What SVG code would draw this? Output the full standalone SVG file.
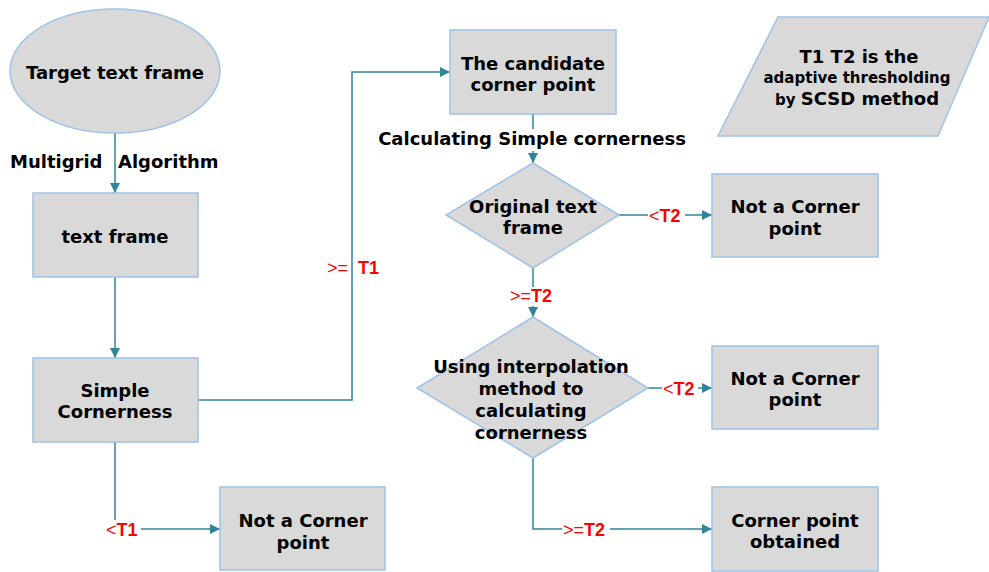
<svg xmlns="http://www.w3.org/2000/svg" width="989" height="572" viewBox="0 0 989 572">
<style>
.box{fill:#d9d9d9;stroke:#9dc3e6;stroke-width:1.5}
.t{font-family:"DejaVu Sans",Verdana,sans-serif;font-weight:bold;font-size:18px;fill:#000;text-anchor:middle}
.s{font-size:15px}
.c{fill:none;stroke:#31849b;stroke-width:1.5}
.r{font-family:"Liberation Sans",Arial,sans-serif;font-weight:bold;font-size:18px;fill:#ff0000}
.rl{font-family:"Liberation Sans",Arial,sans-serif;font-weight:normal;font-size:18px;fill:#ff0000}
.bg{fill:#fff}
</style>
<defs>
<marker id="arr" viewBox="0 0 10 10" refX="10" refY="5" markerWidth="10" markerHeight="10" markerUnits="userSpaceOnUse" orient="auto">
<path d="M0,0 L10,5 L0,10 z" fill="#31849b"/>
</marker>
</defs>
<rect width="989" height="572" fill="#fff"/>

<g id="connectors">
<path class="c" d="M115,133 V193" marker-end="url(#arr)"/>
<path class="c" d="M115,277 V358" marker-end="url(#arr)"/>
<path class="c" d="M198,400 H352 V72 H450" marker-end="url(#arr)"/>
<path class="c" d="M533,114 V163" marker-end="url(#arr)"/>
<path class="c" d="M619,215 H712" marker-end="url(#arr)"/>
<path class="c" d="M533,268 V317" marker-end="url(#arr)"/>
<path class="c" d="M648,388 H712" marker-end="url(#arr)"/>
<path class="c" d="M533,458 V529 H712" marker-end="url(#arr)"/>
<path class="c" d="M115,442 V529 H220" marker-end="url(#arr)"/>
</g>

<g id="labels">
<rect class="bg" x="8" y="151" width="96" height="22"/>
<rect class="bg" x="119" y="151" width="102" height="22"/>
<text class="t" x="10" y="168" style="text-anchor:start">Multigrid</text>
<text class="t" x="118" y="168" style="text-anchor:start">Algorithm</text>
<rect class="bg" x="376" y="129" width="312" height="22"/>
<text class="t" x="532" y="145">Calculating Simple cornerness</text>
<text class="rl" x="327" y="274">&gt;=</text>
<text class="r" x="358" y="274">T1</text>
<rect class="bg" x="509" y="287" width="48" height="19"/>
<text class="rl" x="510" y="302">&gt;=<tspan style="font-weight:bold">T2</tspan></text>
<rect class="bg" x="648" y="206" width="37" height="19"/>
<text class="rl" x="649" y="222">&lt;<tspan style="font-weight:bold">T2</tspan></text>
<rect class="bg" x="662" y="379" width="36" height="19"/>
<text class="rl" x="663" y="395">&lt;<tspan style="font-weight:bold">T2</tspan></text>
<rect class="bg" x="562" y="520" width="48" height="19"/>
<text class="rl" x="563" y="536">&gt;=<tspan style="font-weight:bold">T2</tspan></text>
<rect class="bg" x="105" y="520" width="36" height="19"/>
<text class="rl" x="106" y="536">&lt;<tspan style="font-weight:bold">T1</tspan></text>
</g>

<g id="target">
<ellipse class="box" cx="115" cy="71" rx="105" ry="62"/>
<text class="t" x="115" y="79">Target text frame</text>
</g>

<g id="textframe">
<rect class="box" x="33" y="193" width="165" height="84"/>
<text class="t" x="115" y="243">text frame</text>
</g>

<g id="simple">
<rect class="box" x="33" y="358" width="165" height="84"/>
<text class="t" x="115" y="397">Simple</text>
<text class="t" x="115" y="418">Cornerness</text>
</g>

<g id="notcorner1">
<rect class="box" x="220" y="487" width="165" height="83"/>
<text class="t" x="303" y="527">Not a Corner</text>
<text class="t" x="303" y="549">point</text>
</g>

<g id="candidate">
<rect class="box" x="450" y="30" width="166" height="84"/>
<text class="t" x="533" y="70">The candidate</text>
<text class="t" x="533" y="91">corner point</text>
</g>

<g id="note">
<polygon class="box" points="778,17 989,17 938,136 718,136"/>
<text class="t" x="859" y="63">T1 T2 is the</text>
<text class="t s" x="857" y="83">adaptive thresholding</text>
<text class="t" x="857" y="105"><tspan class="s">by </tspan>SCSD method</text>
</g>

<g id="original">
<polygon class="box" points="533,163 619,215 533,268 446,215"/>
<text class="t" x="533" y="213">Original text</text>
<text class="t" x="533" y="234">frame</text>
</g>

<g id="notcorner2">
<rect class="box" x="712" y="174" width="166" height="83"/>
<text class="t" x="795" y="213">Not a Corner</text>
<text class="t" x="795" y="235">point</text>
</g>

<g id="interp">
<polygon class="box" points="533,317 648,388 533,458 417,388"/>
<text class="t" x="531" y="373">Using interpolation</text>
<text class="t" x="531" y="395">method to</text>
<text class="t" x="531" y="417">calculating</text>
<text class="t" x="531" y="439">cornerness</text>
</g>

<g id="notcorner3">
<rect class="box" x="712" y="346" width="166" height="83"/>
<text class="t" x="795" y="385">Not a Corner</text>
<text class="t" x="795" y="406">point</text>
</g>

<g id="obtained">
<rect class="box" x="712" y="487" width="166" height="84"/>
<text class="t" x="795" y="527">Corner point</text>
<text class="t" x="795" y="548">obtained</text>
</g>
</svg>
